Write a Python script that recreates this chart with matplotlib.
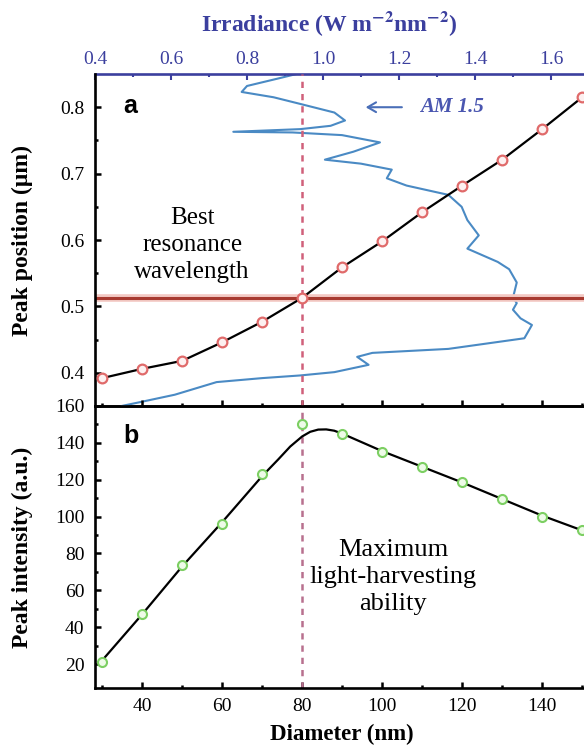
import matplotlib.pyplot as plt

plt.rcParams['font.family'] = ['Liberation Serif', 'DejaVu Serif']
plt.rcParams['mathtext.fontset'] = 'stix'

# Nanoparticle diameter (nm)
diameter = [30, 40, 50, 60, 70, 80, 90, 100, 110, 120, 130, 140, 150]
# Plasmon peak position (um)
peak_pos = [0.392, 0.406, 0.418, 0.446, 0.477, 0.513, 0.559, 0.598, 0.642, 0.682, 0.721, 0.767, 0.815]
# Peak intensity (a.u.)
peak_int = [21, 47, 74, 96, 123, 150.5, 145, 135, 127, 118.5, 109.5, 100, 92.5]

# smooth fit through the intensity data
fit_d = [30, 40, 50, 60, 70, 74, 77, 80, 82, 84, 86, 88, 90, 100, 110, 120, 130, 140, 150]
fit_i = [22, 47, 73, 97, 122, 131, 138, 143.5, 146, 147.2, 147.3, 146.6, 145, 135.5, 127, 118.5, 109.5, 100.5, 92.5]

# AM 1.5 solar spectrum: irradiance vs wavelength (um)
am_irr = [0.93, 0.88, 0.80, 0.786, 0.87, 0.94, 1.03, 1.058, 1.02, 0.94, 0.764, 0.92, 1.05,
          1.15, 1.08, 1.005, 1.10, 1.181, 1.168, 1.22, 1.33, 1.365, 1.38, 1.41, 1.38, 1.46,
          1.49, 1.51, 1.50, 1.51, 1.50, 1.52, 1.55, 1.53, 1.33, 1.13, 1.09, 1.12, 1.03,
          0.94, 0.84, 0.72, 0.61, 0.52, 0.47]
am_wl = [0.850, 0.843, 0.832, 0.823, 0.815, 0.805, 0.792, 0.780, 0.772, 0.767, 0.763, 0.762, 0.758,
         0.747, 0.733, 0.721, 0.715, 0.706, 0.693, 0.682, 0.668, 0.650, 0.630, 0.607, 0.587, 0.567,
         0.556, 0.536, 0.513, 0.505, 0.495, 0.482, 0.472, 0.452, 0.436, 0.430, 0.424, 0.412, 0.401,
         0.396, 0.392, 0.386, 0.367, 0.356, 0.350]

best_d = 80
best_wl = 0.513

blue = '#3b3f9e'
fig = plt.figure(figsize=(5.84, 7.47), dpi=100)
ax_a = fig.add_axes([0.1627, 0.4565, 0.8373, 0.4444])
ax_b = fig.add_axes([0.1627, 0.0790, 0.8373, 0.3775])

xlim = (28.2, 150.45)

def style(ax):
    for s in ['left', 'bottom', 'top']:
        ax.spines[s].set_linewidth(1.9)
    ax.spines['right'].set_visible(False)
    ax.tick_params(which='both', direction='in', width=1.8, labelsize=14,
                   right=False, top=False)
    ax.tick_params(which='major', length=4.5, pad=7.5)
    ax.tick_params(which='minor', length=2.5)
    ax.set_xlim(*xlim)
    ax.set_xticks(range(40, 150, 20))
    ax.set_xticks(range(30, 151, 10), minor=True)

# ---- panel a: peak position and AM 1.5 spectrum
ax_irr = ax_a.twiny()
ax_irr.plot(am_irr, am_wl, color='#4a8ac4', lw=1.5)
ax_irr.set_xlim(0.4, 1.687)
ax_irr.set_xticks([0.4, 0.6, 0.8, 1.0, 1.2, 1.4, 1.6])
ax_irr.set_xticks([0.5, 0.7, 0.9, 1.1, 1.3, 1.5], minor=True)
ax_irr.xaxis.set_major_formatter(plt.FuncFormatter(lambda v, p: f'{v:.1f}'))
for s in ['left', 'bottom', 'right']:
    ax_irr.spines[s].set_visible(False)
ax_irr.spines['top'].set_color(blue)
ax_irr.spines['top'].set_linewidth(1.9)
ax_irr.tick_params(which='both', direction='in', colors=blue, labelsize=14, width=1.5, pad=4)
ax_irr.tick_params(which='major', length=4.5)
ax_irr.tick_params(which='minor', length=2.5)
ax_irr.set_xlabel(r'Irradiance (W m$^{\mathbf{-2}}$nm$^{\mathbf{-2}}$)', color=blue,
                  fontsize=17, fontweight='bold')
ax_irr.xaxis.set_label_coords(0.4785, 1.13)

ax_a.set_zorder(ax_irr.get_zorder() + 1)
ax_a.patch.set_visible(False)
style(ax_a)
ax_a.spines['top'].set_visible(False)
ax_a.set_ylim(0.35, 0.85)
ax_a.set_yticks([0.4, 0.5, 0.6, 0.7, 0.8])
ax_a.set_yticks([0.45, 0.55, 0.65, 0.75], minor=True)
ax_a.tick_params(labelbottom=False)
ax_a.axhline(best_wl, color='#f3c9c4', lw=5.5, zorder=1)
ax_a.axhline(best_wl, color='#a83a30', lw=2.2, zorder=2)
ax_a.axvline(best_d, color='#d0607a', lw=1.8, ls=(0, (2.5, 2.4)), zorder=2)
ax_a.plot(diameter, peak_pos, color='black', lw=1.6, zorder=3)
ax_a.plot(diameter, peak_pos, ls='none', marker='o', ms=7, mfc='#fdf0f0',
          mec='#e06a6a', mew=1.6, zorder=4, clip_on=False)
ax_a.set_ylabel('Peak position (μm)', fontsize=17, fontweight='bold')
ax_a.yaxis.set_label_coords(-0.127, 0.5)
ax_a.text(0.057, 0.905, 'a', transform=ax_a.transAxes, fontsize=18, fontweight='bold',
          family='Liberation Sans', va='center')
ax_a.text(52.5, 0.592, 'Best\nresonance\nwavelength', fontsize=18, ha='center', va='center',
          linespacing=1.3)
ax_irr.annotate('', xy=(1.105, 0.8), xytext=(1.215, 0.8),
                arrowprops=dict(arrowstyle='->,head_width=0.35,head_length=0.6',
                                color='#4a6fb8', lw=1.5))
ax_irr.text(1.255, 0.8, 'AM 1.5', color='#4a56b0', fontsize=15, fontstyle='italic',
            fontweight='bold', va='center')

# ---- panel b: peak intensity
style(ax_b)
ax_b.set_ylim(7, 160)
ax_b.set_yticks(range(20, 161, 20))
ax_b.set_yticks(range(30, 160, 20), minor=True)
ax_b.axvline(best_d, color='#b8708e', lw=1.8, ls=(0, (2.5, 2.4)), zorder=2)
ax_b.plot(fit_d, fit_i, color='black', lw=1.6, zorder=3)
ax_b.plot(diameter, peak_int, ls='none', marker='o', ms=6.5, mfc='#eefbe8',
          mec='#7ccf62', mew=1.5, zorder=4, clip_on=False)
ax_b.set_ylabel('Peak intensity (a.u.)', fontsize=17, fontweight='bold')
ax_b.yaxis.set_label_coords(-0.127, 0.5)
ax_b.set_xlabel('Diameter (nm)', fontsize=16.5, fontweight='bold')
ax_b.xaxis.set_label_coords(0.505, -0.128)
ax_b.text(0.057, 0.895, 'b', transform=ax_b.transAxes, fontsize=18, fontweight='bold',
          family='Liberation Sans', va='center')
ax_b.text(102.7, 67.3, 'Maximum\nlight-harvesting\nability', fontsize=19, ha='center',
          va='center', linespacing=1.3)

fig.savefig('out.png', dpi=100)
